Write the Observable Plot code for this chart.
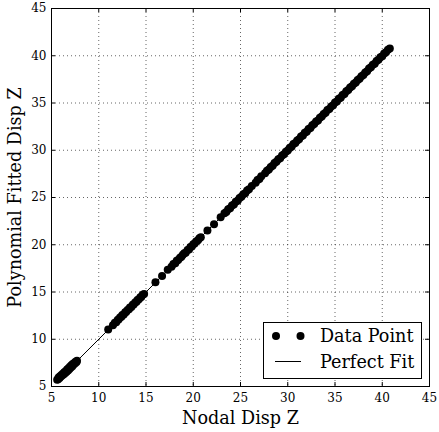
<!DOCTYPE html>
<html>
<head>
<meta charset="utf-8">
<script src="https://cdn.jsdelivr.net/npm/d3@7"></script>
<script src="https://cdn.jsdelivr.net/npm/@observablehq/plot@0.6"></script>
<style>
  body { margin: 0; background: #fff; }
  #chart { position: relative; width: 439px; height: 432px; }
  #legend { position: absolute; left: 263px; top: 322px; }
</style>
</head>
<body>
<div id="chart"></div>
<script>
// Nodal displacement (Z) and the polynomial-fitted displacement at each node
const nodalDisp = [
  5.60, 5.70, 5.75, 5.85, 5.90, 6.00, 6.05, 6.15, 6.20, 6.30,
  6.35, 6.45, 6.50, 6.60, 6.65, 6.75, 6.80, 6.90, 6.95, 7.05,
  7.10, 7.20, 7.25, 7.35, 7.40, 7.50, 7.55, 7.65, 7.70,
  11.0, 11.5, 11.7, 11.85, 12.0, 12.1, 12.25, 12.4, 12.5, 12.65,
  12.8, 12.9, 13.05, 13.2, 13.3, 13.45, 13.6, 13.7, 13.85, 14.0,
  14.1, 14.25, 14.4, 14.5, 14.65, 14.8,
  16.0, 16.7, 17.3, 17.7, 17.9, 18.1, 18.25, 18.4, 18.6, 18.75,
  18.9, 19.05, 19.2, 19.4, 19.55, 19.7, 19.85, 20.0, 20.15, 20.3,
  20.5, 20.65, 20.8, 21.5, 22.2, 22.9,
  23.3, 23.5, 23.7, 23.9, 24.1, 24.3, 24.5, 24.7, 24.9, 25.1,
  25.3, 25.5, 25.7, 25.9, 26.2, 26.6, 26.8, 27.0, 27.2, 27.6,
  27.8, 28.0, 28.2, 28.4, 28.6, 28.8, 29.0, 29.2, 29.4, 29.6,
  29.8, 30.0, 30.2, 30.4, 30.6, 30.8, 31.0, 31.2, 31.4, 31.6,
  31.8, 32.0, 32.2, 32.4, 32.6, 32.8, 33.0, 33.2, 33.4, 33.6,
  33.8, 34.0, 34.2, 34.4, 34.6, 34.8, 35.0, 35.2, 35.4, 35.6,
  35.8, 36.0, 36.2, 36.4, 36.6, 36.8, 37.0, 37.2, 37.4, 37.6,
  37.8, 38.0, 38.2, 38.4, 38.6, 38.8, 39.0, 39.2, 39.4, 39.6,
  39.8, 40.0, 40.2, 40.4, 40.6, 40.8
];
const fittedDisp = [
  5.72, 5.78, 5.95, 5.90, 6.08, 6.05, 6.22, 6.18, 6.35, 6.30,
  6.50, 6.42, 6.62, 6.55, 6.80, 6.70, 6.92, 6.85, 7.10, 7.00,
  7.25, 7.15, 7.38, 7.32, 7.50, 7.45, 7.62, 7.58, 7.72,
  11.02, 11.48, 11.75, 11.80, 12.05, 12.08, 12.30, 12.38, 12.56, 12.62,
  12.85, 12.88, 13.10, 13.18, 13.36, 13.42, 13.65, 13.68, 13.90, 13.98,
  14.16, 14.22, 14.45, 14.48, 14.70, 14.78,
  16.02, 16.68, 17.35, 17.66, 17.95, 18.05, 18.30, 18.38, 18.62, 18.72,
  18.95, 19.10, 19.15, 19.45, 19.50, 19.75, 19.82, 20.05, 20.12, 20.35,
  20.48, 20.70, 20.80, 21.52, 22.18, 22.92,
  23.34, 23.46, 23.75, 23.86, 24.15, 24.27, 24.55, 24.66, 24.94, 25.07,
  25.35, 25.46, 25.74, 25.88, 26.23, 26.57, 26.84, 26.96, 27.25, 27.57,
  27.84, 27.97, 28.24, 28.37, 28.64, 28.77, 29.05, 29.16, 29.44, 29.57,
  29.84, 29.97, 30.24, 30.36, 30.65, 30.76, 31.04, 31.16, 31.45, 31.56,
  31.84, 31.97, 32.24, 32.36, 32.65, 32.77, 33.04, 33.16, 33.44, 33.57,
  33.84, 33.96, 34.25, 34.36, 34.64, 34.77, 35.04, 35.16, 35.45, 35.56,
  35.84, 35.96, 36.24, 36.37, 36.65, 36.76, 37.04, 37.17, 37.44, 37.56,
  37.84, 37.97, 38.24, 38.36, 38.64, 38.77, 39.04, 39.16, 39.44, 39.57,
  39.84, 39.96, 40.24, 40.36, 40.64, 40.76
];
const tickValues = [5, 10, 15, 20, 25, 30, 35, 40, 45];
const gridValues = [10, 15, 20, 25, 30, 35, 40];
const axisDomain = [5, 45];
const xLabel = "Nodal Disp Z";
const yLabel = "Polynomial Fitted Disp Z";
const legendLabels = ["Data Point", "Perfect Fit"];

const points = nodalDisp.map((x, i) => ({x, y: fittedDisp[i]}));
const [lo, hi] = d3.extent(nodalDisp);
const perfect = [{x: lo, y: lo}, {x: hi, y: hi}];

const W = 439, H = 432, mL = 51, mR = 10, mT = 8, mB = 46;
const innerW = W - mL - mR, innerH = H - mT - mB;
const tickLen = 4;
const serif = "'DejaVu Serif'";
const labelSize = 17.6;

const chart = Plot.plot({
  width: W, height: H,
  marginLeft: mL, marginRight: mR, marginTop: mT, marginBottom: mB,
  style: {fontFamily: serif, fontSize: "12px", background: "#fff", color: "#000", overflow: "visible"},
  x: {domain: axisDomain},
  y: {domain: axisDomain},
  marks: [
    Plot.gridX(gridValues, {stroke: "#000", strokeOpacity: 0.6, strokeWidth: 1, strokeDasharray: "1,3"}),
    Plot.gridY(gridValues, {stroke: "#000", strokeOpacity: 0.6, strokeWidth: 1, strokeDasharray: "1,3"}),
    Plot.line(perfect, {x: "x", y: "y", stroke: "#000", strokeWidth: 1}),
    Plot.dot(points, {x: "x", y: "y", r: 4, fill: "#000", stroke: "none"}),
    // inward ticks on all four sides
    Plot.tickX(tickValues, {x: d => d, stroke: "#000", insetTop: innerH - tickLen}),
    Plot.tickX(tickValues, {x: d => d, stroke: "#000", insetBottom: innerH - tickLen}),
    Plot.tickY(tickValues, {y: d => d, stroke: "#000", insetRight: innerW - tickLen}),
    Plot.tickY(tickValues, {y: d => d, stroke: "#000", insetLeft: innerW - tickLen}),
    Plot.axisX(tickValues, {tickSize: 0, tickPadding: 7, label: null, fontSize: 12}),
    Plot.axisY(tickValues, {tickSize: 0, tickPadding: 5, label: null, fontSize: 12}),
    Plot.frame({stroke: "#000", strokeWidth: 1}),
    Plot.text([xLabel], {frameAnchor: "bottom", textAnchor: "middle", lineAnchor: "bottom",
      dy: 37.5, fontSize: labelSize, fill: "#000"}),
    Plot.text([yLabel], {frameAnchor: "left", textAnchor: "middle", lineAnchor: "bottom",
      dx: -31, rotate: -90, fontSize: labelSize, fill: "#000"})
  ]
});
document.getElementById("chart").appendChild(chart);

// legend box in the lower-right corner of the axes
const legend = d3.select("#chart").append("svg")
  .attr("id", "legend").attr("width", 160).attr("height", 58)
  .style("font-family", serif);
legend.append("rect").attr("x", 0.5).attr("y", 0.5).attr("width", 158).attr("height", 56)
  .attr("fill", "#fff").attr("stroke", "#000");
[13, 37.5].forEach(cx => legend.append("circle").attr("cx", cx).attr("cy", 14).attr("r", 4).attr("fill", "#000"));
legend.append("line").attr("x1", 12).attr("x2", 38).attr("y1", 39.5).attr("y2", 39.5).attr("stroke", "#000");
legend.selectAll("text.lbl").data(legendLabels).join("text")
  .attr("x", 57).attr("y", (d, i) => i === 0 ? 20.3 : 46.3)
  .attr("font-size", labelSize).attr("fill", "#000").text(d => d);
</script>
</body>
</html>
